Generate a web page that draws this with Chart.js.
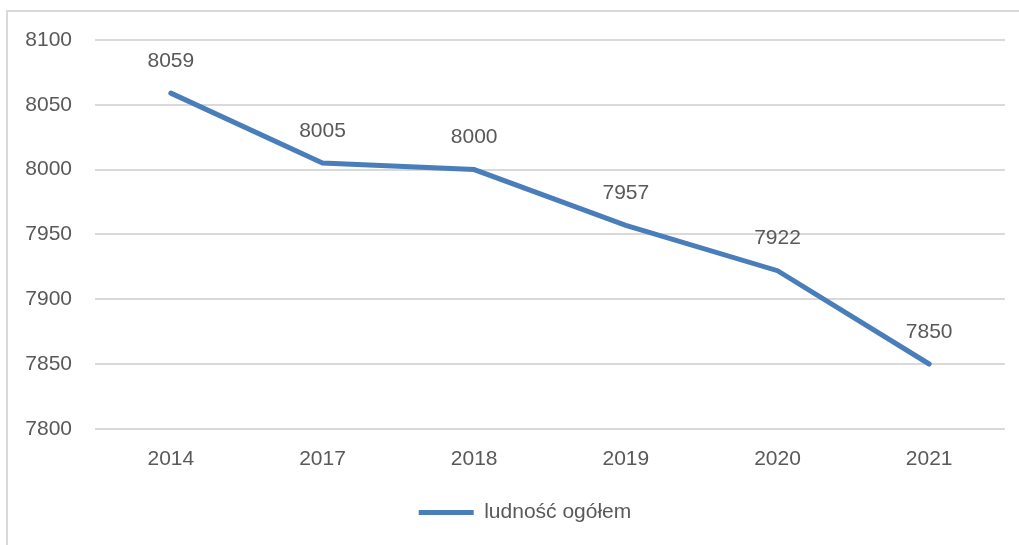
<!DOCTYPE html>
<html>
<head>
<meta charset="utf-8">
<script src="https://cdn.jsdelivr.net/npm/chart.js@4/dist/chart.umd.min.js"></script>
<style>
    body { margin: 0; background: #fff; overflow: hidden; }
    #wrap { position: relative; width: 1019px; height: 545px; }
    #frame { position: absolute; left: 6px; top: 10px; width: 1100px; height: 600px; border: 2px solid #d9d9d9; box-sizing: border-box; }
    canvas { position: absolute; left: 0; top: 0; }
</style>
</head>
<body>
<div id="wrap">
    <div id="frame"></div>
    <canvas id="chart" width="1019" height="545"></canvas>
</div>
<script>
const years = ['2014', '2017', '2018', '2019', '2020', '2021']
const population = [8059, 8005, 8000, 7957, 7922, 7850]
const yMin = 7800
const yMax = 8100
const yStep = 50

const font = "'Liberation Sans', Arial, sans-serif"
const textColor = '#595959'

// value labels above each point
const pointLabels = {
    id: 'pointLabels',
    afterDatasetsDraw(chart) {
        const ctx = chart.ctx
        const meta = chart.getDatasetMeta(0)
        ctx.save()
        ctx.font = '21px ' + font
        ctx.fillStyle = textColor
        ctx.textAlign = 'center'
        ctx.textBaseline = 'middle'
        meta.data.forEach((pt, i) => {
            ctx.fillText(String(population[i]), pt.x, pt.y - 32)
        })
        ctx.restore()
    }
}

// legend sits a bit right of the canvas centre, like in the frame
const legendShift = {
    id: 'legendShift',
    afterLayout(chart) {
        chart.legend.left += 45
    }
}

new Chart(document.getElementById('chart'), {
    type: 'line',
    data: {
        labels: years,
        datasets: [{
            label: 'ludność ogółem',
            data: population,
            borderColor: '#4A7EBB',
            backgroundColor: '#4A7EBB',
            borderWidth: 5,
            borderCapStyle: 'round',
            pointRadius: 0,
            pointStyle: 'line',
            tension: 0
        }]
    },
    options: {
        responsive: false,
        animation: false,
        layout: { padding: { left: 0, right: 14, top: 40, bottom: 12 } },
        scales: {
            x: {
                offset: true,
                grid: { display: false, drawTicks: false },
                border: { display: false },
                ticks: { color: textColor, font: { family: font, size: 21 }, padding: 18 }
            },
            y: {
                min: yMin,
                max: yMax,
                afterFit(scale) { scale.width = 95 },
                grid: { color: '#d9d9d9', lineWidth: 2, drawTicks: false },
                border: { display: false },
                ticks: {
                    stepSize: yStep,
                    color: textColor,
                    font: { family: font, size: 21 },
                    padding: 23,
                    callback: (v) => String(v)
                }
            }
        },
        plugins: {
            tooltip: { enabled: false },
            legend: {
                position: 'bottom',
                labels: {
                    usePointStyle: true,
                    pointStyleWidth: 55,
                    color: textColor,
                    font: { family: font, size: 21 },
                    padding: 12
                }
            }
        }
    },
    plugins: [pointLabels, legendShift]
})
</script>
</body>
</html>
